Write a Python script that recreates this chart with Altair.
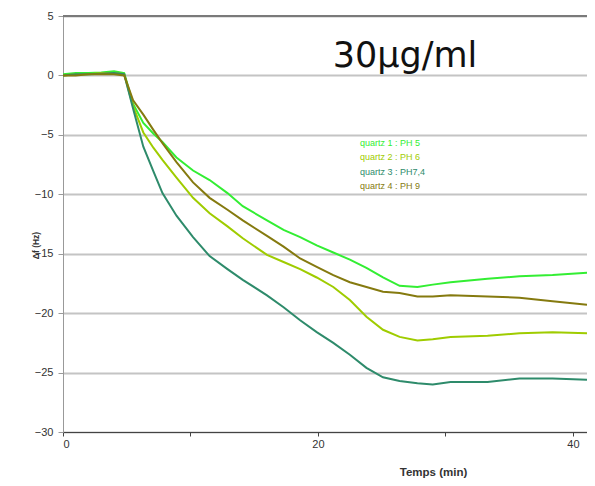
import altair as alt
import pandas as pd

# time (min)
t = [0, 1, 2, 3, 4, 4.8, 5.5, 6.3, 7.1, 7.8, 8.9, 10.2, 11.5, 12.9, 14.1, 16.0,
     17.3, 18.6, 19.9, 21.2, 22.5, 23.8, 25.1, 26.4, 27.8, 29.0, 30.4, 33.3,
     35.8, 38.4, 41.1]

# delta f (Hz)
q1 = [0.1, 0.2, 0.2, 0.25, 0.35, 0.2, -2.4, -4.0, -4.9, -5.6, -6.9, -8.0, -8.8,
      -9.9, -11.0, -12.2, -13.0, -13.6, -14.3, -14.9, -15.5, -16.2, -17.0,
      -17.7, -17.8, -17.6, -17.4, -17.1, -16.9, -16.8, -16.6]
q2 = [0.0, 0.1, 0.1, 0.2, 0.2, 0.1, -2.6, -4.8, -6.1, -7.1, -8.6, -10.3, -11.6,
      -12.7, -13.7, -15.1, -15.7, -16.3, -17.0, -17.8, -18.9, -20.3, -21.4,
      -22.0, -22.3, -22.2, -22.0, -21.9, -21.7, -21.6, -21.7]
q3 = [0.0, 0.1, 0.1, 0.15, 0.2, 0.1, -2.8, -6.0, -8.1, -9.9, -11.8, -13.6,
      -15.2, -16.3, -17.2, -18.5, -19.5, -20.6, -21.6, -22.5, -23.5, -24.6,
      -25.4, -25.7, -25.9, -26.0, -25.8, -25.8, -25.5, -25.5, -25.6]
q4 = [0.0, 0.0, 0.1, 0.1, 0.1, 0.0, -2.1, -3.3, -4.6, -5.7, -7.3, -9.0, -10.3,
      -11.3, -12.2, -13.5, -14.4, -15.4, -16.1, -16.8, -17.4, -17.8, -18.2,
      -18.3, -18.6, -18.6, -18.5, -18.6, -18.7, -19.0, -19.3]

labels = ["quartz 1 : PH 5", "quartz 2 : PH 6", "quartz 3 : PH7,4", "quartz 4 : PH 9"]
colors = ["#33ee33", "#9fcc00", "#2e8b6b", "#857a0f"]

x_ticks = [0, 10, 20, 30, 40]
y_ticks = [-30, -25, -20, -15, -10, -5, 0, 5]
y_top = [5]

rows = []
for lab, vals in zip(labels, [q1, q2, q3, q4]):
    for ti, v in zip(t, vals):
        rows.append({"t": ti, "v": v, "series": lab})
df = pd.DataFrame(rows)

FONT = "Liberation Sans"

x_enc = alt.X("t:Q",
              scale=alt.Scale(domain=[0, 41.1], nice=False, zero=False),
              axis=alt.Axis(values=x_ticks, grid=False, title="Temps (min)",
                            labelExpr="datum.value % 20 == 0 ? datum.label : ''",
                            tickSize=4, labelPadding=2, labelFontSize=11,
                            labelColor="#333333", labelFont=FONT,
                            domainColor="#444444", tickColor="#444444",
                            titleFont=FONT, titleFontSize=11.5, titleFontWeight="bold",
                            titleColor="#333333", titleX=370, titleY=40,
                            titleBaseline="middle", titleAlign="center"))
y_scale = alt.Scale(domain=[-30, 5], nice=False, zero=False)

lines = alt.Chart(df).mark_line(strokeWidth=2, clip=True).encode(
    x=x_enc,
    y=alt.Y("v:Q", scale=y_scale,
            axis=alt.Axis(values=y_ticks, grid=True, gridColor="#c4c4c4",
                          gridWidth=2, gridOpacity=1, title="Δf (Hz)",
                          tickSize=5, labelPadding=5, labelFontSize=11,
                          labelColor="#333333", labelFont=FONT,
                          domainColor="#999999", tickColor="#999999",
                          titleFont=FONT, titleFontSize=8.5, titleFontWeight="bold",
                          titleColor="#333333", titleX=-28, titleY=229,
                          titleAngle=270, titleBaseline="middle",
                          titleAlign="center")),
    color=alt.Color("series:N", scale=alt.Scale(domain=labels, range=colors),
                    legend=None),
)

top_rule = alt.Chart(pd.DataFrame({"v": y_top})).mark_rule(
    color="#7a7a7a", strokeWidth=2
).encode(y=alt.Y("v:Q", scale=y_scale))

title_text = alt.Chart(pd.DataFrame({"txt": ["30µg/ml"]})).mark_text(
    font="DejaVu Sans", fontSize=35, color="#111111", align="center",
    baseline="alphabetic"
).encode(x=alt.value(342), y=alt.value(51), text="txt:N")

legend_y = [127, 141, 156, 170]
legend_layers = []
for lab, col, yy in zip(labels, colors, legend_y):
    legend_layers.append(
        alt.Chart(pd.DataFrame({"txt": [lab]})).mark_text(
            font=FONT, fontSize=9, color=col, align="left", baseline="middle"
        ).encode(x=alt.value(297), y=alt.value(yy), text="txt:N")
    )

chart = alt.layer(lines, top_rule, title_text, *legend_layers).properties(
    width=524, height=416,
    autosize=alt.AutoSizeParams(type="none"),
    padding={"left": 55, "top": 8, "right": 0, "bottom": 46},
).configure_view(stroke=None)

chart.save("out.html", embed_options={"renderer": "svg", "actions": False})
